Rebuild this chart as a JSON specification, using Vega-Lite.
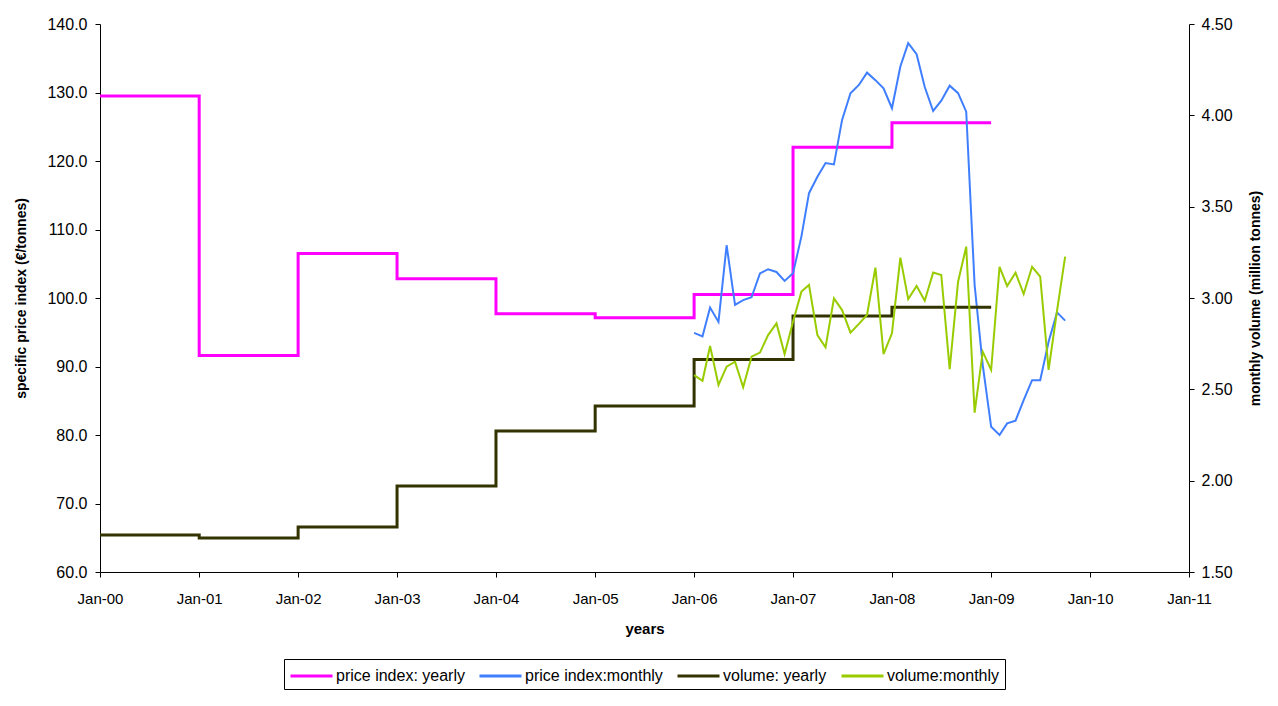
{
  "$schema": "https://vega.github.io/schema/vega-lite/v6.json",
  "autosize": {"type": "none"},
  "width": 1089,
  "height": 548,
  "padding": {"left": 100, "top": 24, "right": 89, "bottom": 134},
  "background": "white",
  "config": {
    "font": "Liberation Sans",
    "view": {"stroke": null},
    "axis": {"grid": false, "domainColor": "black", "tickColor": "black", "labelColor": "black", "titleColor": "black", "labelFont": "Liberation Sans", "titleFont": "Liberation Sans", "labelFontSize": 16, "titleFontSize": 14, "titleFontWeight": "bold", "tickSize": 5, "domainWidth": 1, "tickWidth": 1},
    "legend": {"layout": {"bottom": {"anchor": "middle"}}}
  },
  "datasets": {
    "priceYearly": [
      {"date": "2000-01-01T00:00:00", "value": 129.5, "series": "price index: yearly"},
      {"date": "2001-01-01T00:00:00", "value": 91.6, "series": "price index: yearly"},
      {"date": "2002-01-01T00:00:00", "value": 106.5, "series": "price index: yearly"},
      {"date": "2003-01-01T00:00:00", "value": 102.8, "series": "price index: yearly"},
      {"date": "2004-01-01T00:00:00", "value": 97.7, "series": "price index: yearly"},
      {"date": "2005-01-01T00:00:00", "value": 97.1, "series": "price index: yearly"},
      {"date": "2006-01-01T00:00:00", "value": 100.5, "series": "price index: yearly"},
      {"date": "2007-01-01T00:00:00", "value": 122.0, "series": "price index: yearly"},
      {"date": "2008-01-01T00:00:00", "value": 125.6, "series": "price index: yearly"},
      {"date": "2009-01-01T00:00:00", "value": 125.6, "series": "price index: yearly"}
    ],
    "priceMonthly": [
      {"date": "2006-01-01T00:00:00", "value": 94.9, "series": "price index:monthly"},
      {"date": "2006-02-01T00:00:00", "value": 94.4, "series": "price index:monthly"},
      {"date": "2006-03-01T00:00:00", "value": 98.6, "series": "price index:monthly"},
      {"date": "2006-04-01T00:00:00", "value": 96.5, "series": "price index:monthly"},
      {"date": "2006-05-01T00:00:00", "value": 107.7, "series": "price index:monthly"},
      {"date": "2006-06-01T00:00:00", "value": 99.0, "series": "price index:monthly"},
      {"date": "2006-07-01T00:00:00", "value": 99.7, "series": "price index:monthly"},
      {"date": "2006-08-01T00:00:00", "value": 100.1, "series": "price index:monthly"},
      {"date": "2006-09-01T00:00:00", "value": 103.6, "series": "price index:monthly"},
      {"date": "2006-10-01T00:00:00", "value": 104.2, "series": "price index:monthly"},
      {"date": "2006-11-01T00:00:00", "value": 103.8, "series": "price index:monthly"},
      {"date": "2006-12-01T00:00:00", "value": 102.5, "series": "price index:monthly"},
      {"date": "2007-01-01T00:00:00", "value": 103.6, "series": "price index:monthly"},
      {"date": "2007-02-01T00:00:00", "value": 109.0, "series": "price index:monthly"},
      {"date": "2007-03-01T00:00:00", "value": 115.3, "series": "price index:monthly"},
      {"date": "2007-04-01T00:00:00", "value": 117.7, "series": "price index:monthly"},
      {"date": "2007-05-01T00:00:00", "value": 119.7, "series": "price index:monthly"},
      {"date": "2007-06-01T00:00:00", "value": 119.5, "series": "price index:monthly"},
      {"date": "2007-07-01T00:00:00", "value": 126.0, "series": "price index:monthly"},
      {"date": "2007-08-01T00:00:00", "value": 129.9, "series": "price index:monthly"},
      {"date": "2007-09-01T00:00:00", "value": 131.1, "series": "price index:monthly"},
      {"date": "2007-10-01T00:00:00", "value": 132.9, "series": "price index:monthly"},
      {"date": "2007-11-01T00:00:00", "value": 131.8, "series": "price index:monthly"},
      {"date": "2007-12-01T00:00:00", "value": 130.6, "series": "price index:monthly"},
      {"date": "2008-01-01T00:00:00", "value": 127.7, "series": "price index:monthly"},
      {"date": "2008-02-01T00:00:00", "value": 133.8, "series": "price index:monthly"},
      {"date": "2008-03-01T00:00:00", "value": 137.2, "series": "price index:monthly"},
      {"date": "2008-04-01T00:00:00", "value": 135.6, "series": "price index:monthly"},
      {"date": "2008-05-01T00:00:00", "value": 130.8, "series": "price index:monthly"},
      {"date": "2008-06-01T00:00:00", "value": 127.3, "series": "price index:monthly"},
      {"date": "2008-07-01T00:00:00", "value": 128.8, "series": "price index:monthly"},
      {"date": "2008-08-01T00:00:00", "value": 131.0, "series": "price index:monthly"},
      {"date": "2008-09-01T00:00:00", "value": 129.9, "series": "price index:monthly"},
      {"date": "2008-10-01T00:00:00", "value": 127.2, "series": "price index:monthly"},
      {"date": "2008-11-01T00:00:00", "value": 101.9, "series": "price index:monthly"},
      {"date": "2008-12-01T00:00:00", "value": 90.2, "series": "price index:monthly"},
      {"date": "2009-01-01T00:00:00", "value": 81.2, "series": "price index:monthly"},
      {"date": "2009-02-01T00:00:00", "value": 80.0, "series": "price index:monthly"},
      {"date": "2009-03-01T00:00:00", "value": 81.7, "series": "price index:monthly"},
      {"date": "2009-04-01T00:00:00", "value": 82.1, "series": "price index:monthly"},
      {"date": "2009-05-01T00:00:00", "value": 85.1, "series": "price index:monthly"},
      {"date": "2009-06-01T00:00:00", "value": 88.0, "series": "price index:monthly"},
      {"date": "2009-07-01T00:00:00", "value": 88.0, "series": "price index:monthly"},
      {"date": "2009-08-01T00:00:00", "value": 93.6, "series": "price index:monthly"},
      {"date": "2009-09-01T00:00:00", "value": 97.9, "series": "price index:monthly"},
      {"date": "2009-10-01T00:00:00", "value": 96.7, "series": "price index:monthly"}
    ],
    "volYearly": [
      {"date": "2000-01-01T00:00:00", "value": 1.703, "series": "volume: yearly"},
      {"date": "2001-01-01T00:00:00", "value": 1.686, "series": "volume: yearly"},
      {"date": "2002-01-01T00:00:00", "value": 1.746, "series": "volume: yearly"},
      {"date": "2003-01-01T00:00:00", "value": 1.971, "series": "volume: yearly"},
      {"date": "2004-01-01T00:00:00", "value": 2.272, "series": "volume: yearly"},
      {"date": "2005-01-01T00:00:00", "value": 2.409, "series": "volume: yearly"},
      {"date": "2006-01-01T00:00:00", "value": 2.663, "series": "volume: yearly"},
      {"date": "2007-01-01T00:00:00", "value": 2.901, "series": "volume: yearly"},
      {"date": "2008-01-01T00:00:00", "value": 2.949, "series": "volume: yearly"},
      {"date": "2009-01-01T00:00:00", "value": 2.949, "series": "volume: yearly"}
    ],
    "volMonthly": [
      {"date": "2006-01-01T00:00:00", "value": 2.578, "series": "volume:monthly"},
      {"date": "2006-02-01T00:00:00", "value": 2.547, "series": "volume:monthly"},
      {"date": "2006-03-01T00:00:00", "value": 2.737, "series": "volume:monthly"},
      {"date": "2006-04-01T00:00:00", "value": 2.524, "series": "volume:monthly"},
      {"date": "2006-05-01T00:00:00", "value": 2.624, "series": "volume:monthly"},
      {"date": "2006-06-01T00:00:00", "value": 2.651, "series": "volume:monthly"},
      {"date": "2006-07-01T00:00:00", "value": 2.511, "series": "volume:monthly"},
      {"date": "2006-08-01T00:00:00", "value": 2.679, "series": "volume:monthly"},
      {"date": "2006-09-01T00:00:00", "value": 2.701, "series": "volume:monthly"},
      {"date": "2006-10-01T00:00:00", "value": 2.797, "series": "volume:monthly"},
      {"date": "2006-11-01T00:00:00", "value": 2.861, "series": "volume:monthly"},
      {"date": "2006-12-01T00:00:00", "value": 2.693, "series": "volume:monthly"},
      {"date": "2007-01-01T00:00:00", "value": 2.870, "series": "volume:monthly"},
      {"date": "2007-02-01T00:00:00", "value": 3.035, "series": "volume:monthly"},
      {"date": "2007-03-01T00:00:00", "value": 3.071, "series": "volume:monthly"},
      {"date": "2007-04-01T00:00:00", "value": 2.797, "series": "volume:monthly"},
      {"date": "2007-05-01T00:00:00", "value": 2.730, "series": "volume:monthly"},
      {"date": "2007-06-01T00:00:00", "value": 2.998, "series": "volume:monthly"},
      {"date": "2007-07-01T00:00:00", "value": 2.934, "series": "volume:monthly"},
      {"date": "2007-08-01T00:00:00", "value": 2.810, "series": "volume:monthly"},
      {"date": "2007-09-01T00:00:00", "value": 2.858, "series": "volume:monthly"},
      {"date": "2007-10-01T00:00:00", "value": 2.907, "series": "volume:monthly"},
      {"date": "2007-11-01T00:00:00", "value": 3.166, "series": "volume:monthly"},
      {"date": "2007-12-01T00:00:00", "value": 2.693, "series": "volume:monthly"},
      {"date": "2008-01-01T00:00:00", "value": 2.807, "series": "volume:monthly"},
      {"date": "2008-02-01T00:00:00", "value": 3.221, "series": "volume:monthly"},
      {"date": "2008-03-01T00:00:00", "value": 2.994, "series": "volume:monthly"},
      {"date": "2008-04-01T00:00:00", "value": 3.066, "series": "volume:monthly"},
      {"date": "2008-05-01T00:00:00", "value": 2.985, "series": "volume:monthly"},
      {"date": "2008-06-01T00:00:00", "value": 3.139, "series": "volume:monthly"},
      {"date": "2008-07-01T00:00:00", "value": 3.126, "series": "volume:monthly"},
      {"date": "2008-08-01T00:00:00", "value": 2.611, "series": "volume:monthly"},
      {"date": "2008-09-01T00:00:00", "value": 3.089, "series": "volume:monthly"},
      {"date": "2008-10-01T00:00:00", "value": 3.281, "series": "volume:monthly"},
      {"date": "2008-11-01T00:00:00", "value": 2.372, "series": "volume:monthly"},
      {"date": "2008-12-01T00:00:00", "value": 2.706, "series": "volume:monthly"},
      {"date": "2009-01-01T00:00:00", "value": 2.606, "series": "volume:monthly"},
      {"date": "2009-02-01T00:00:00", "value": 3.171, "series": "volume:monthly"},
      {"date": "2009-03-01T00:00:00", "value": 3.066, "series": "volume:monthly"},
      {"date": "2009-04-01T00:00:00", "value": 3.139, "series": "volume:monthly"},
      {"date": "2009-05-01T00:00:00", "value": 3.022, "series": "volume:monthly"},
      {"date": "2009-06-01T00:00:00", "value": 3.171, "series": "volume:monthly"},
      {"date": "2009-07-01T00:00:00", "value": 3.117, "series": "volume:monthly"},
      {"date": "2009-08-01T00:00:00", "value": 2.606, "series": "volume:monthly"},
      {"date": "2009-09-01T00:00:00", "value": 2.930, "series": "volume:monthly"},
      {"date": "2009-10-01T00:00:00", "value": 3.226, "series": "volume:monthly"}
    ]
  },
  "encoding": {
    "x": {
      "field": "date", "type": "temporal",
      "scale": {"domain": [{"year": 2000, "month": 1, "date": 1}, {"year": 2011, "month": 1, "date": 1}]},
      "axis": {"title": "years", "format": "%b-%y", "tickCount": {"interval": "year", "step": 1}, "labelFontSize": 15, "labelPadding": 14, "titlePadding": 15, "titleFontSize": 15, "labelFlush": false}
    },
    "color": {
      "field": "series", "type": "nominal",
      "scale": {"domain": ["price index: yearly", "price index:monthly", "volume: yearly", "volume:monthly"], "range": ["#FF00FF", "#3F7FFF", "#333300", "#99CC00"]},
      "legend": {"title": null, "orient": "bottom", "direction": "horizontal", "symbolType": "M-1,0H3", "symbolSize": 441, "symbolStrokeWidth": 3, "symbolFillColor": "transparent", "labelFontSize": 16, "labelFont": "Liberation Sans", "labelColor": "black", "labelOffset": 23, "columnPadding": 8, "padding": 5, "strokeColor": "black", "fillColor": "white", "offset": 23}
    }
  },
  "layer": [
    {
      "encoding": {
        "y": {"field": "value", "type": "quantitative", "scale": {"domain": [60, 140], "nice": false, "zero": false},
          "axis": {"orient": "left", "title": "specific price index (€/tonnes)", "format": ".1f", "values": [60, 70, 80, 90, 100, 110, 120, 130, 140], "labelPadding": 8, "titlePadding": 18}}
      },
      "layer": [
        {"data": {"name": "priceYearly"}, "mark": {"type": "line", "interpolate": "step-after", "strokeWidth": 3}},
        {"data": {"name": "priceMonthly"}, "mark": {"type": "line", "strokeWidth": 2}}
      ]
    },
    {
      "encoding": {
        "y": {"field": "value", "type": "quantitative", "scale": {"domain": [1.5, 4.5], "nice": false, "zero": false},
          "axis": {"orient": "right", "title": "monthly volume (million tonnes)", "titleAngle": 270, "format": ".2f", "values": [1.5, 2.0, 2.5, 3.0, 3.5, 4.0, 4.5], "labelPadding": 7, "titlePadding": 30}}
      },
      "layer": [
        {"data": {"name": "volYearly"}, "mark": {"type": "line", "interpolate": "step-after", "strokeWidth": 3}},
        {"data": {"name": "volMonthly"}, "mark": {"type": "line", "strokeWidth": 2}}
      ]
    }
  ],
  "resolve": {"scale": {"y": "independent"}}
}
